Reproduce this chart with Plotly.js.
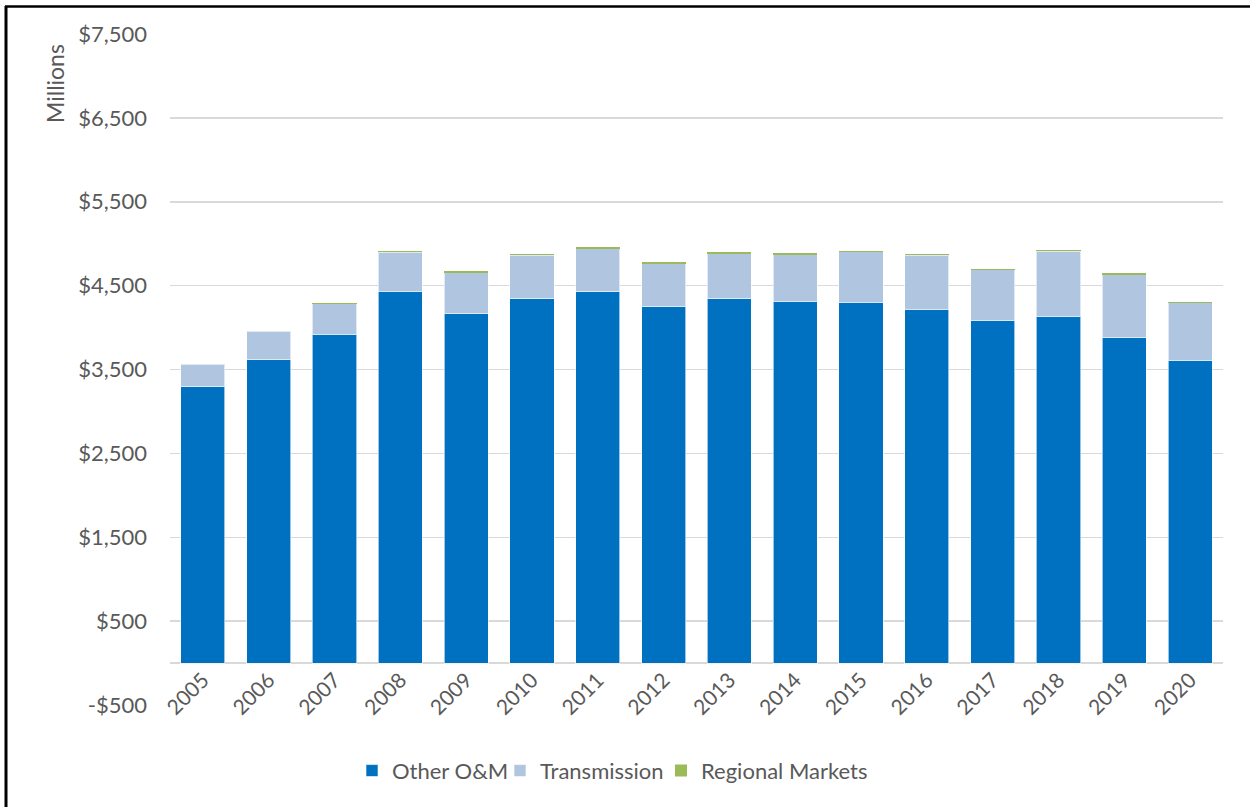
<!DOCTYPE html>
<html>
<head>
<meta charset="utf-8">
<script src="https://cdn.plot.ly/plotly-3.0.1.min.js"></script>
<style>html,body{margin:0;padding:0;background:#fff;}#chart{width:1250px;height:807px;}</style>
</head>
<body>
<div id="chart"></div>
<script>
const years = ["2005","2006","2007","2008","2009","2010","2011","2012","2013","2014","2015","2016","2017","2018","2019","2020"];
const otherOM = [3293,3615,3922,4435,4164,4343,4426,4247,4343,4315,4303,4220,4089,4136,3878,3612];
const transmission = [267,342,364,463,490,518,515,515,538,553,602,641,603,773,753,681];
const regionalMarkets = [0,0,5,10,15,15,15,15,15,20,10,15,5,15,15,10];
const yTickVals = [-500,500,1500,2500,3500,4500,5500,6500,7500];
const yTickText = ["-$500","$500","$1,500","$2,500","$3,500","$4,500","$5,500","$6,500","$7,500"];

const font = {family: "Lato, Open Sans, sans-serif", color: "#595959"};
const barLine = {color: "rgba(255,255,255,0.6)", width: 1};

const traces = [
  {type: "bar", name: "Other O&M", x: years, y: otherOM, legend: "legend", marker: {color: "#0070C0", line: barLine}},
  {type: "bar", name: "Transmission", x: years, y: transmission, legend: "legend2", marker: {color: "#B0C6E0", line: barLine}},
  {type: "bar", name: "Regional Markets", x: years, y: regionalMarkets, legend: "legend3", marker: {color: "#9BBB59", line: {width: 0}}}
];

function legendAt(px) {
  return {orientation: "h", x: (px - 14 - 170) / 1053, xanchor: "left", y: -0.098, yanchor: "middle",
          font: Object.assign({size: 22}, font), itemwidth: 30, bgcolor: "rgba(0,0,0,0)"};
}

const layout = {
  width: 1250, height: 807,
  margin: {l: 170, r: 27, t: 34, b: 102},
  paper_bgcolor: "#fff", plot_bgcolor: "#fff",
  barmode: "stack", bargap: 0.33,
  font: Object.assign({size: 21}, font),
  showlegend: true,
  legend: legendAt(366),
  legend2: legendAt(514),
  legend3: legendAt(675),
  xaxis: {
    type: "category", anchor: "free", position: 0.0629,
    tickangle: -45, tickfont: Object.assign({size: 21}, font),
    showline: false, showgrid: false, ticks: "", zeroline: false, fixedrange: true
  },
  yaxis: {
    range: [-500, 7500], tickvals: yTickVals, ticktext: yTickText,
    tickfont: Object.assign({size: 22}, font),
    showgrid: true, gridcolor: "#D9D9D9", gridwidth: 1.5,
    zeroline: true, zerolinecolor: "#D9D9D9", zerolinewidth: 2,
    showline: false, ticks: "", ticklabelstandoff: 22
  },
  annotations: [{
    text: "Millions", textangle: -90, xref: "paper", yref: "paper",
    x: (55 - 170) / 1053, y: (705 - 84) / 671, xanchor: "center", yanchor: "middle",
    showarrow: false, font: Object.assign({size: 23}, font)
  }],
  shapes: [
    {type: "line", xref: "paper", yref: "paper", x0: (6 - 170) / 1053, x1: (6 - 170) / 1053,
     y0: (705 - 812) / 671, y1: (705 - 6) / 671, line: {color: "#000", width: 3}},
    {type: "line", xref: "paper", yref: "paper", x0: (5 - 170) / 1053, x1: (1255 - 170) / 1053,
     y0: (705 - 6.5) / 671, y1: (705 - 6.5) / 671, line: {color: "#000", width: 2.5}}
  ]
};

Plotly.newPlot("chart", traces, layout, {displayModeBar: false, staticPlot: true});
</script>
</body>
</html>
